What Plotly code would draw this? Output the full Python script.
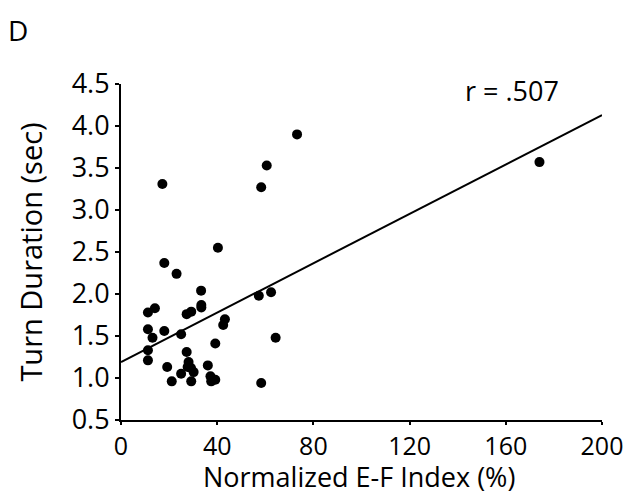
import plotly.graph_objects as go

# Normalized E-F index (%) and turn duration (sec)
ef_index = [17.2, 60.6, 58.3, 40.3, 18.0, 23.1, 33.3, 57.3, 62.4, 33.4,
            33.4, 11.2, 14.1, 27.3, 29.2, 43.2, 42.5, 11.2, 18.0, 13.1,
            25.0, 64.3, 39.2, 11.2, 27.3, 11.2, 19.2, 28.1, 27.7, 29.1,
            30.2, 25.0, 36.1, 37.2, 39.2, 37.5, 21.1, 29.2, 58.3, 73.2,
            174.0]
turn_duration = [3.31, 3.53, 3.27, 2.55, 2.37, 2.24, 2.04, 1.98, 2.02, 1.87,
                 1.84, 1.78, 1.83, 1.76, 1.79, 1.70, 1.63, 1.58, 1.56, 1.48,
                 1.52, 1.48, 1.41, 1.33, 1.31, 1.21, 1.13, 1.19, 1.13, 1.12,
                 1.07, 1.05, 1.15, 1.02, 0.98, 0.96, 0.96, 0.96, 0.94, 3.90,
                 3.57]

# regression line end points
fit_x = [0, 200]
fit_y = [1.19, 4.13]

font = "Open Sans"

fig = go.Figure()
fig.add_trace(go.Scatter(x=fit_x, y=fit_y, mode="lines",
                         line=dict(color="black", width=2), cliponaxis=False))
fig.add_trace(go.Scatter(x=ef_index, y=turn_duration, mode="markers",
                         marker=dict(color="black", size=10)))

fig.update_layout(
    width=633, height=496,
    margin=dict(l=113, r=39, t=76, b=84),
    paper_bgcolor="white", plot_bgcolor="white",
    showlegend=False,
    font=dict(family=font, size=24, color="black"),
)
fig.update_xaxes(range=[0, 200], tickvals=[0, 40, 80, 120, 160, 200],
                 showgrid=False, zeroline=False, showline=True,
                 linecolor="black", linewidth=2, ticks="outside", ticklen=3,
                 tickwidth=2, tickcolor="black",
                 tickfont=dict(family=font, size=25))
fig.update_yaxes(range=[0.5, 4.5], tickvals=[0.5, 1, 1.5, 2, 2.5, 3, 3.5, 4, 4.5],
                 tickformat=".1f",
                 showgrid=False, zeroline=False, showline=True,
                 linecolor="black", linewidth=2, ticks="outside", ticklen=4,
                 tickwidth=2, tickcolor="black",
                 tickfont=dict(family=font, size=27),
                 title=dict(text="Turn Duration (sec)", standoff=20,
                            font=dict(family=font, size=29)))

# x title as annotation so it stays inside the page
fig.add_annotation(text="Normalized E-F Index (%)", xref="paper", yref="paper",
                   x=0.5 - 3/481, y=-36/336, xanchor="center", yanchor="top",
                   showarrow=False, font=dict(family=font, size=27, color="black"))
fig.add_annotation(text="D", xref="paper", yref="paper", x=-115/481, y=1 + 54/336,
                   xanchor="left", yanchor="middle", showarrow=False,
                   font=dict(family=font, size=28, color="black"))
fig.add_annotation(text="r = .507", xref="x", yref="y", x=142, y=4.42,
                   xanchor="left", yanchor="middle", showarrow=False,
                   font=dict(family=font, size=27, color="black"))

fig.write_html("out.html")
